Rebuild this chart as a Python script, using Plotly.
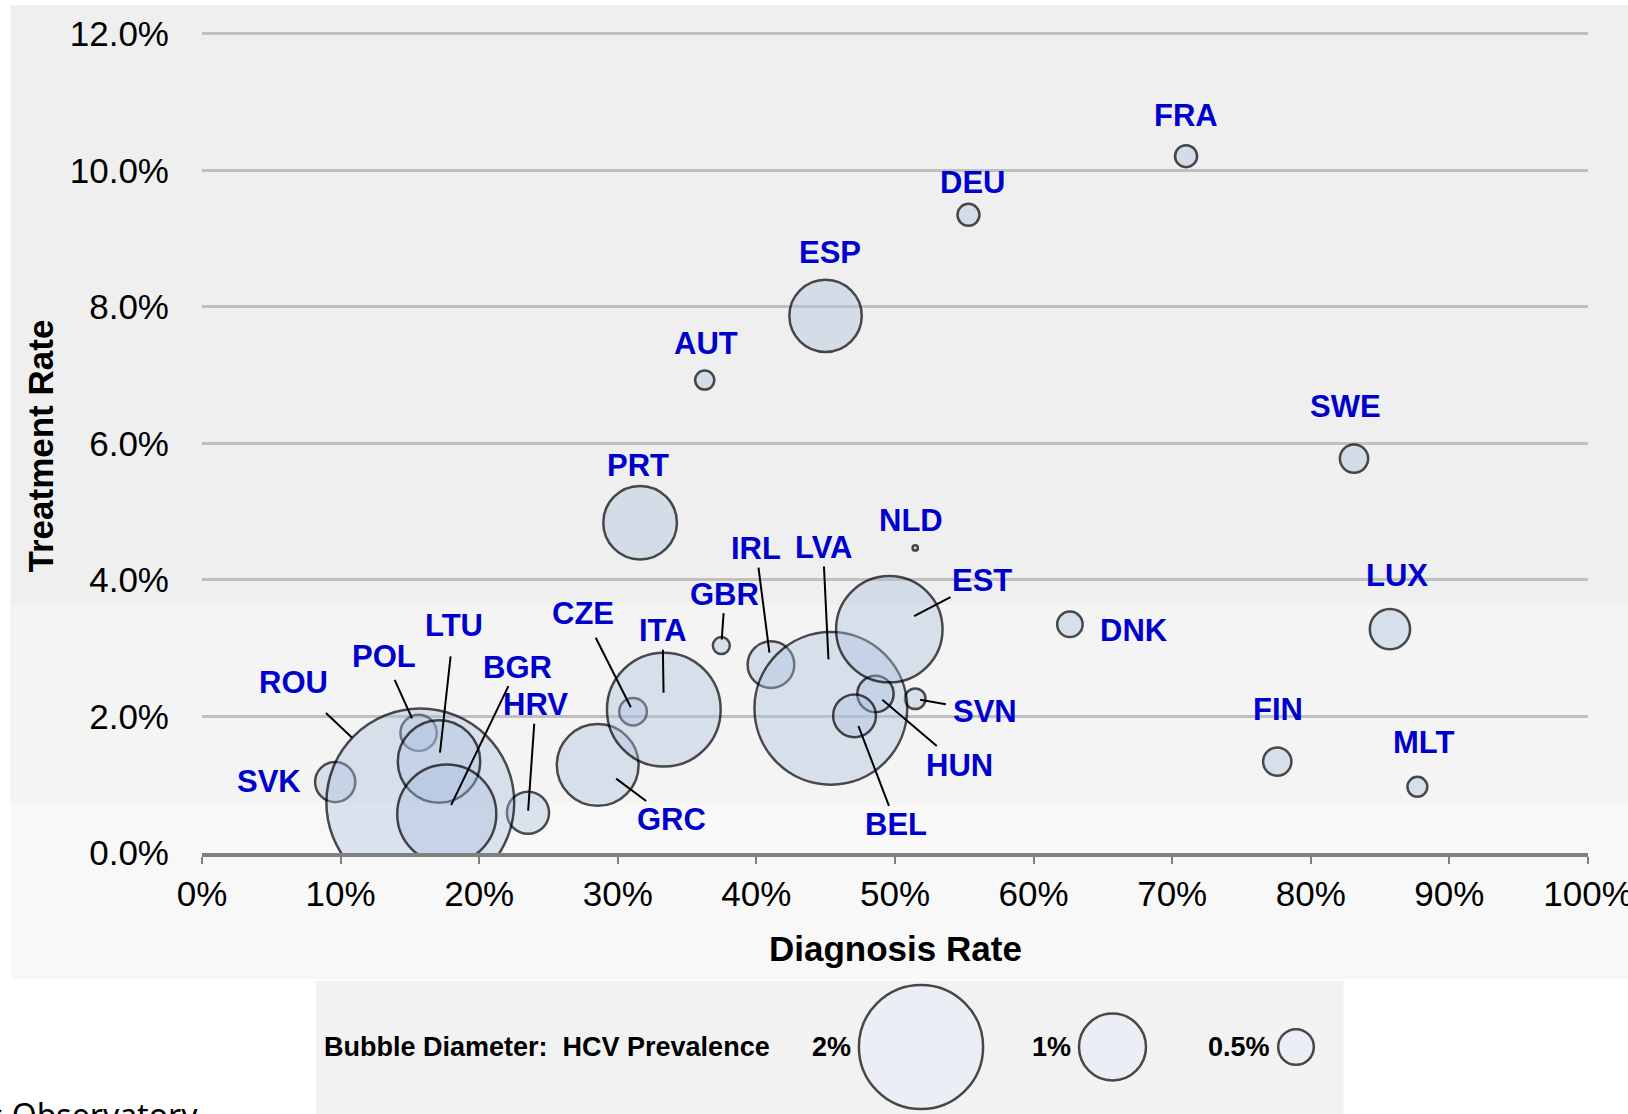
import plotly.graph_objects as go

# ---------------- data ----------------
countries = ["SVK", "POL", "HRV", "ROU", "LTU", "BGR", "GRC", "CZE", "ITA", "GBR",
             "IRL", "SVN", "LVA", "HUN", "BEL", "EST", "NLD", "DNK", "AUT", "ESP",
             "PRT", "DEU", "FRA", "SWE", "LUX", "FIN", "MLT"]
diagnosis_rate = [9.61, 15.63, 23.52, 15.75, 17.10, 17.66, 28.55, 31.10, 33.32, 37.47,
                  41.05, 51.46, 45.37, 48.59, 47.08, 49.59, 51.46, 62.62, 36.27, 44.99,
                  31.61, 55.30, 71.00, 83.12, 85.71, 77.58, 87.69]
treatment_rate = [1.04, 1.76, 0.59, 0.74, 1.34, 0.57, 1.29, 2.07, 2.10, 3.04,
                  2.76, 2.26, 2.12, 2.33, 2.01, 3.28, 4.47, 3.35, 6.93, 7.87,
                  4.84, 9.35, 10.21, 5.78, 3.28, 1.34, 0.97]
hcv_prevalence = [0.57, 0.51, 0.60, 3.20, 1.26, 1.55, 1.25, 0.38, 1.81, 0.23,
                  0.67, 0.28, 2.53, 0.51, 0.61, 1.68, 0.08, 0.35, 0.26, 1.09,
                  1.11, 0.30, 0.30, 0.39, 0.57, 0.39, 0.27]
x_tick_values = [0, 10, 20, 30, 40, 50, 60, 70, 80, 90, 100]
x_tick_labels = ["0%", "10%", "20%", "30%", "40%", "50%", "60%", "70%", "80%", "90%", "100%"]
y_tick_values = [0, 2, 4, 6, 8, 10, 12]
y_tick_labels = ["0.0%", "2.0%", "4.0%", "6.0%", "8.0%", "10.0%", "12.0%"]
legend_values = [2.0, 1.0, 0.5]
legend_labels = ["2%", "1%", "0.5%"]

# ---------------- styles / layout positions ----------------
W, H = 1628, 1114
PL, PR, PT, PB = 202, 1588, 34, 853          # pixel position of 0..100% and 12%..0%
Y_MAX = 12.05                                 # small headroom so the 12% grid line shows
PT_EXT = PB - Y_MAX * (PB - PT) / 12.0
LINE_W = 2.5
FONT = "Liberation Sans, Arial, sans-serif"
LABEL_BLUE = "#0000CC"
FILL = "rgba(172,192,222,0.55)"

def bubble_px(p):
    return 69.5 * p ** 0.866 - LINE_W

def xp(px):
    return px / W

def yp(py):
    return 1 - py / H

# label offsets in px: arrowed labels (ax, ay, standoff, startstandoff)
ARROW_LABELS = {
    "ROU": (-126.7, -120.3, 94, 17), "POL": (-34.6, -76.6, 16, 5),
    "LTU": (15, -136, 9, 12), "BGR": (70.8, -147, 10, 0),
    "HRV": (7.6, -108, 2, 0), "CZE": (-49.6, -98.4, 5, 6),
    "ITA": (-1.2, -79, 17, 0), "GRC": (74, 55, 23, 0),
    "GBR": (3.6, -51.4, 6, 0), "IRL": (-14.9, -116.1, 12, 0),
    "LVA": (-7.8, -160.8, 49, 0), "EST": (92.7, -48.4, 28, 0),
    "SVN": (70, 12.6, 5, 6), "HUN": (83.7, 71.1, 9, 0),
    "BEL": (41.7, 109, 11, 0),
}
# plain labels (dx, dy) in px, dy downward
PLAIN_LABELS = {
    "FRA": (0, -41), "DEU": (4, -32.5), "ESP": (4.6, -63.4), "AUT": (1.3, -36.5),
    "SWE": (-8.2, -52.1), "PRT": (-2.4, -57.6), "LUX": (6.8, -53.8),
    "FIN": (0.3, -52.3), "MLT": (6.3, -44.6), "SVK": (-66, -0.6),
    "NLD": (-4, -27), "DNK": (64.5, 5.8),
}

LEG_X = [921, 1112.5, 1296]
LEG_Y = 1047

fig = go.Figure()

fig.add_trace(go.Scatter(
    x=diagnosis_rate, y=treatment_rate, mode="markers",
    marker=dict(size=[bubble_px(p) for p in hcv_prevalence], sizemode="diameter",
                color=FILL, line=dict(color="black", width=LINE_W)),
    xaxis="x", yaxis="y", hoverinfo="skip", showlegend=False,
))

# legend bubbles (own hidden pixel-space axes)
fig.add_trace(go.Scatter(
    x=LEG_X, y=[LEG_Y] * len(legend_values), mode="markers",
    marker=dict(size=[bubble_px(p) for p in legend_values], sizemode="diameter",
                color="#e9edf5", line=dict(color="black", width=LINE_W)),
    xaxis="x2", yaxis="y2", cliponaxis=False, hoverinfo="skip", showlegend=False,
))

annotations = []
for name, xv, yv in zip(countries, diagnosis_rate, treatment_rate):
    if name in ARROW_LABELS:
        ax, ay, so, sso = ARROW_LABELS[name]
        annotations.append(dict(
            x=xv, y=yv, xref="x", yref="y", text=name, showarrow=True,
            ax=ax, ay=ay, arrowhead=0, arrowwidth=2, arrowcolor="black",
            standoff=so, startstandoff=sso,
            font=dict(family=FONT, size=31, color=LABEL_BLUE, weight="bold"),
        ))
    elif name in PLAIN_LABELS:
        dx, dy = PLAIN_LABELS[name]
        annotations.append(dict(
            x=xv, y=yv, xref="x", yref="y", text=name, showarrow=False,
            xshift=dx, yshift=-dy,
            font=dict(family=FONT, size=31, color=LABEL_BLUE, weight="bold"),
        ))

# axis titles
annotations.append(dict(x=xp(895.5), y=yp(948), xref="paper", yref="paper",
                        xanchor="center", yanchor="middle",
                        text="<b>Diagnosis Rate</b>", showarrow=False,
                        font=dict(family=FONT, size=35, color="black")))
annotations.append(dict(x=xp(39.5), y=yp(446), xref="paper", yref="paper",
                        xanchor="center", yanchor="middle",
                        text="<b>Treatment Rate</b>", showarrow=False, textangle=-90,
                        font=dict(family=FONT, size=35, color="black")))

# legend texts
annotations.append(dict(x=xp(321.7), y=yp(LEG_Y), xref="paper", yref="paper",
                        xanchor="left", yanchor="middle",
                        text="<b>Bubble Diameter:\u00a0 HCV Prevalence</b>", showarrow=False,
                        font=dict(family=FONT, size=27, color="black")))
for lx, lv, lt in zip(LEG_X, legend_values, legend_labels):
    annotations.append(dict(x=xp(lx - (bubble_px(lv) + LINE_W) / 2 - 5), y=yp(LEG_Y),
                            xref="paper", yref="paper", xanchor="right", yanchor="middle",
                            text="<b>" + lt + "</b>", showarrow=False,
                            font=dict(family=FONT, size=27, color="black")))

# cut-off source text at bottom left
annotations.append(dict(x=xp(200), y=yp(1091), xref="paper", yref="paper",
                        xanchor="right", yanchor="top", text="s Observatory",
                        showarrow=False,
                        font=dict(family="Noto Sans, sans-serif", size=32, color="black")))

shapes = [
    dict(type="rect", xref="paper", yref="paper", x0=xp(10.4), x1=xp(1640),
         y0=yp(5.2), y1=yp(605), fillcolor="#efefef", line_width=0, layer="below"),
    dict(type="rect", xref="paper", yref="paper", x0=xp(10.4), x1=xp(1640),
         y0=yp(605), y1=yp(802), fillcolor="#f4f4f4", line_width=0, layer="below"),
    dict(type="rect", xref="paper", yref="paper", x0=xp(10.4), x1=xp(1640),
         y0=yp(802), y1=yp(979), fillcolor="#f8f8f8", line_width=0, layer="below"),
    dict(type="rect", xref="paper", yref="paper", x0=xp(316), x1=xp(1343.5),
         y0=yp(980.7), y1=yp(1120), fillcolor="#f2f2f2", line_width=0, layer="below"),
]

fig.update_layout(
    width=W, height=H,
    margin=dict(l=0, r=0, t=0, b=0),
    paper_bgcolor="white", plot_bgcolor="rgba(0,0,0,0)",
    showlegend=False,
    font=dict(family=FONT, color="black"),
    xaxis=dict(domain=[xp(PL), xp(PR)], range=[0, 100], anchor="y",
               tickvals=x_tick_values, ticktext=x_tick_labels,
               showgrid=False, zeroline=False,
               showline=True, linecolor="#808080", linewidth=3.5,
               ticks="outside", ticklen=7, tickwidth=2, tickcolor="#808080",
               tickfont=dict(family=FONT, size=35, color="black"),
               ticklabelstandoff=0, ticklabeloverflow="allow", automargin=False),
    yaxis=dict(domain=[yp(PB), yp(PT_EXT)], range=[0, Y_MAX], anchor="x",
               tickvals=y_tick_values, ticktext=y_tick_labels,
               showgrid=True, gridcolor="#c0c0c0", gridwidth=2.5, zeroline=False,
               showline=False, ticks="",
               tickfont=dict(family=FONT, size=35, color="black"),
               ticklabelstandoff=32, ticklabeloverflow="allow", automargin=False),
    xaxis2=dict(domain=[0, 1], range=[0, W], anchor="y2", visible=False, fixedrange=True),
    yaxis2=dict(domain=[0, 1], range=[H, 0], anchor="x2", visible=False, fixedrange=True),
    annotations=annotations,
    shapes=shapes,
)

fig.write_html("out.html", config={"displayModeBar": False},
               post_script="document.body.style.margin='0px';")
